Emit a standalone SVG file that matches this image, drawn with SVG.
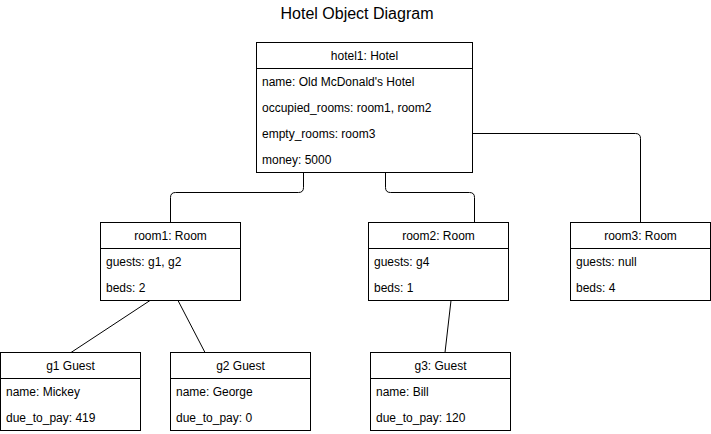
<svg xmlns="http://www.w3.org/2000/svg" width="711" height="434" viewBox="0 0 711 434">
<style>
.box{fill:#fff;stroke:#000;stroke-width:1}
.sep{stroke:#000;stroke-width:1}
.hd{font-family:"Liberation Sans",Arial,sans-serif;font-size:12px;fill:#000;text-anchor:middle}
.at{font-family:"Liberation Sans",Arial,sans-serif;font-size:12px;fill:#000}
.title{font-family:"Liberation Sans",Arial,sans-serif;font-size:16px;fill:#000;text-anchor:middle}
.con{fill:none;stroke:#000;stroke-width:1}
</style>
<rect width="711" height="434" fill="#fff"/>
<text class="title" x="357" y="19">Hotel Object Diagram</text>
<g id="connectors">
<path class="con" d="M303.5,172.5 V187.5 Q303.5,192.5 298.5,192.5 H175.5 Q170.5,192.5 170.5,197.5 V222.5"/>
<path class="con" d="M385.5,172.5 V187.5 Q385.5,192.5 390.5,192.5 H469.5 Q474.5,192.5 474.5,197.5 V222.5"/>
<path class="con" d="M472.5,133.5 H635.5 Q640.5,133.5 640.5,138.5 V222.5"/>
<path class="con" d="M150,300.5 L71,352.5"/>
<path class="con" d="M178,300.5 L205,352.5"/>
<path class="con" d="M451,300.5 L445,352.5"/>
</g>
<g id="hotel1">
<rect class="box" x="256.5" y="42.5" width="216" height="130"/>
<line class="sep" x1="256.5" y1="68.5" x2="472.5" y2="68.5"/>
<text class="hd" x="364.5" y="60">hotel1: Hotel</text>
<text class="at" x="262" y="86">name: Old McDonald's Hotel</text>
<text class="at" x="262" y="112">occupied_rooms: room1, room2</text>
<text class="at" x="262" y="138">empty_rooms: room3</text>
<text class="at" x="262" y="164">money: 5000</text>
</g>
<g id="room1">
<rect class="box" x="100.5" y="222.5" width="140" height="78"/>
<line class="sep" x1="100.5" y1="248.5" x2="240.5" y2="248.5"/>
<text class="hd" x="170.5" y="240">room1: Room</text>
<text class="at" x="106" y="266">guests: g1, g2</text>
<text class="at" x="106" y="292">beds: 2</text>
</g>
<g id="room2">
<rect class="box" x="368.5" y="222.5" width="140" height="78"/>
<line class="sep" x1="368.5" y1="248.5" x2="508.5" y2="248.5"/>
<text class="hd" x="438.5" y="240">room2: Room</text>
<text class="at" x="374" y="266">guests: g4</text>
<text class="at" x="374" y="292">beds: 1</text>
</g>
<g id="room3">
<rect class="box" x="570.5" y="222.5" width="140" height="78"/>
<line class="sep" x1="570.5" y1="248.5" x2="710.5" y2="248.5"/>
<text class="hd" x="640.5" y="240">room3: Room</text>
<text class="at" x="576" y="266">guests: null</text>
<text class="at" x="576" y="292">beds: 4</text>
</g>
<g id="g1">
<rect class="box" x="0.5" y="352.5" width="140" height="78"/>
<line class="sep" x1="0.5" y1="378.5" x2="140.5" y2="378.5"/>
<text class="hd" x="70.5" y="370">g1 Guest</text>
<text class="at" x="6" y="396">name: Mickey</text>
<text class="at" x="6" y="422">due_to_pay: 419</text>
</g>
<g id="g2">
<rect class="box" x="170.5" y="352.5" width="140" height="78"/>
<line class="sep" x1="170.5" y1="378.5" x2="310.5" y2="378.5"/>
<text class="hd" x="240.5" y="370">g2 Guest</text>
<text class="at" x="176" y="396">name: George</text>
<text class="at" x="176" y="422">due_to_pay: 0</text>
</g>
<g id="g3">
<rect class="box" x="370.5" y="352.5" width="140" height="78"/>
<line class="sep" x1="370.5" y1="378.5" x2="510.5" y2="378.5"/>
<text class="hd" x="440.5" y="370">g3: Guest</text>
<text class="at" x="376" y="396">name: Bill</text>
<text class="at" x="376" y="422">due_to_pay: 120</text>
</g>
</svg>
